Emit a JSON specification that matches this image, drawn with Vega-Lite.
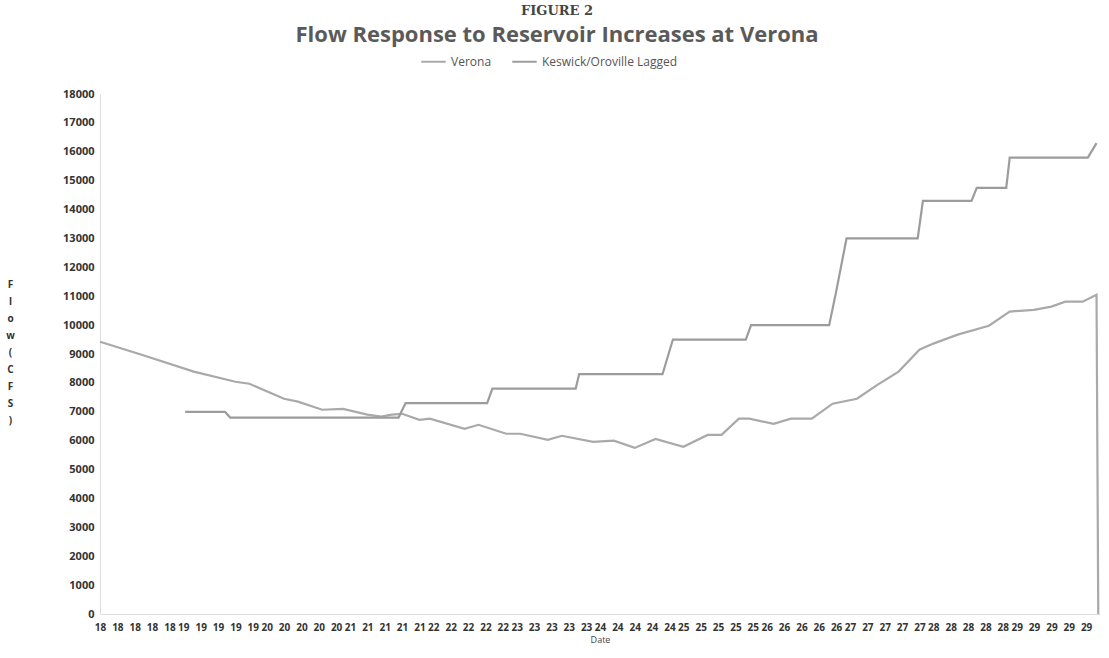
{
  "$schema": "https://vega.github.io/schema/vega-lite/v6.json",
  "autosize": "none",
  "width": 1000,
  "height": 520,
  "padding": {"left": 100, "top": 94, "right": 9, "bottom": 44},
  "background": "white",
  "title": {
    "text": "FIGURE 2",
    "subtitle": "Flow Response to Reservoir Increases at Verona",
    "font": "DejaVu Serif",
    "fontSize": 13,
    "fontWeight": "bold",
    "color": "#444444",
    "subtitleFont": "Open Sans",
    "subtitleFontSize": 22,
    "subtitleFontWeight": "bold",
    "subtitleColor": "#5a5a5a",
    "subtitlePadding": 7,
    "anchor": "middle",
    "dx": -43,
    "offset": 2
  },
  "data": {
    "values": [
      {"date": "2020-01-18T00:00:00", "series": "Verona", "flow": 9425},
      {"date": "2020-01-18T12:00:00", "series": "Verona", "flow": 8975},
      {"date": "2020-01-19T03:00:00", "series": "Verona", "flow": 8390},
      {"date": "2020-01-19T15:00:00", "series": "Verona", "flow": 8040},
      {"date": "2020-01-19T19:00:00", "series": "Verona", "flow": 7970},
      {"date": "2020-01-20T05:00:00", "series": "Verona", "flow": 7450},
      {"date": "2020-01-20T09:00:00", "series": "Verona", "flow": 7350},
      {"date": "2020-01-20T16:00:00", "series": "Verona", "flow": 7070},
      {"date": "2020-01-20T22:00:00", "series": "Verona", "flow": 7100},
      {"date": "2020-01-21T05:00:00", "series": "Verona", "flow": 6900},
      {"date": "2020-01-21T09:00:00", "series": "Verona", "flow": 6830},
      {"date": "2020-01-21T12:00:00", "series": "Verona", "flow": 6900},
      {"date": "2020-01-21T15:00:00", "series": "Verona", "flow": 6930},
      {"date": "2020-01-21T20:00:00", "series": "Verona", "flow": 6720},
      {"date": "2020-01-21T23:00:00", "series": "Verona", "flow": 6760},
      {"date": "2020-01-22T09:00:00", "series": "Verona", "flow": 6410},
      {"date": "2020-01-22T13:00:00", "series": "Verona", "flow": 6550},
      {"date": "2020-01-22T21:00:00", "series": "Verona", "flow": 6240},
      {"date": "2020-01-23T01:00:00", "series": "Verona", "flow": 6240},
      {"date": "2020-01-23T09:00:00", "series": "Verona", "flow": 6030},
      {"date": "2020-01-23T13:00:00", "series": "Verona", "flow": 6170},
      {"date": "2020-01-23T22:00:00", "series": "Verona", "flow": 5960},
      {"date": "2020-01-24T04:00:00", "series": "Verona", "flow": 6000},
      {"date": "2020-01-24T10:00:00", "series": "Verona", "flow": 5750},
      {"date": "2020-01-24T16:00:00", "series": "Verona", "flow": 6060},
      {"date": "2020-01-25T00:00:00", "series": "Verona", "flow": 5790},
      {"date": "2020-01-25T07:00:00", "series": "Verona", "flow": 6200},
      {"date": "2020-01-25T11:00:00", "series": "Verona", "flow": 6200},
      {"date": "2020-01-25T16:00:00", "series": "Verona", "flow": 6760},
      {"date": "2020-01-25T19:00:00", "series": "Verona", "flow": 6760},
      {"date": "2020-01-26T02:00:00", "series": "Verona", "flow": 6580},
      {"date": "2020-01-26T07:00:00", "series": "Verona", "flow": 6760},
      {"date": "2020-01-26T13:00:00", "series": "Verona", "flow": 6760},
      {"date": "2020-01-26T19:00:00", "series": "Verona", "flow": 7280},
      {"date": "2020-01-27T02:00:00", "series": "Verona", "flow": 7450},
      {"date": "2020-01-27T08:00:00", "series": "Verona", "flow": 7940},
      {"date": "2020-01-27T14:00:00", "series": "Verona", "flow": 8390},
      {"date": "2020-01-27T20:00:00", "series": "Verona", "flow": 9150},
      {"date": "2020-01-28T00:00:00", "series": "Verona", "flow": 9360},
      {"date": "2020-01-28T07:00:00", "series": "Verona", "flow": 9670},
      {"date": "2020-01-28T16:00:00", "series": "Verona", "flow": 9980},
      {"date": "2020-01-28T22:00:00", "series": "Verona", "flow": 10470},
      {"date": "2020-01-29T05:00:00", "series": "Verona", "flow": 10530},
      {"date": "2020-01-29T10:00:00", "series": "Verona", "flow": 10640},
      {"date": "2020-01-29T14:00:00", "series": "Verona", "flow": 10810},
      {"date": "2020-01-29T19:00:00", "series": "Verona", "flow": 10810},
      {"date": "2020-01-29T23:00:00", "series": "Verona", "flow": 11050},
      {"date": "2020-01-29T23:30:00", "series": "Verona", "flow": 0},
      {"date": "2020-01-19T00:30:00", "series": "Keswick/Oroville Lagged", "flow": 7000},
      {"date": "2020-01-19T12:00:00", "series": "Keswick/Oroville Lagged", "flow": 7000},
      {"date": "2020-01-19T13:30:00", "series": "Keswick/Oroville Lagged", "flow": 6800},
      {"date": "2020-01-21T14:00:00", "series": "Keswick/Oroville Lagged", "flow": 6800},
      {"date": "2020-01-21T16:00:00", "series": "Keswick/Oroville Lagged", "flow": 7300},
      {"date": "2020-01-22T15:30:00", "series": "Keswick/Oroville Lagged", "flow": 7300},
      {"date": "2020-01-22T17:00:00", "series": "Keswick/Oroville Lagged", "flow": 7800},
      {"date": "2020-01-23T17:00:00", "series": "Keswick/Oroville Lagged", "flow": 7800},
      {"date": "2020-01-23T18:00:00", "series": "Keswick/Oroville Lagged", "flow": 8300},
      {"date": "2020-01-24T18:00:00", "series": "Keswick/Oroville Lagged", "flow": 8300},
      {"date": "2020-01-24T21:00:00", "series": "Keswick/Oroville Lagged", "flow": 9500},
      {"date": "2020-01-25T18:00:00", "series": "Keswick/Oroville Lagged", "flow": 9500},
      {"date": "2020-01-25T19:30:00", "series": "Keswick/Oroville Lagged", "flow": 10000},
      {"date": "2020-01-26T18:00:00", "series": "Keswick/Oroville Lagged", "flow": 10000},
      {"date": "2020-01-26T20:00:00", "series": "Keswick/Oroville Lagged", "flow": 11150},
      {"date": "2020-01-26T23:00:00", "series": "Keswick/Oroville Lagged", "flow": 13000},
      {"date": "2020-01-27T19:30:00", "series": "Keswick/Oroville Lagged", "flow": 13000},
      {"date": "2020-01-27T21:00:00", "series": "Keswick/Oroville Lagged", "flow": 14300},
      {"date": "2020-01-28T11:00:00", "series": "Keswick/Oroville Lagged", "flow": 14300},
      {"date": "2020-01-28T12:30:00", "series": "Keswick/Oroville Lagged", "flow": 14750},
      {"date": "2020-01-28T21:00:00", "series": "Keswick/Oroville Lagged", "flow": 14750},
      {"date": "2020-01-28T22:00:00", "series": "Keswick/Oroville Lagged", "flow": 15800},
      {"date": "2020-01-29T20:30:00", "series": "Keswick/Oroville Lagged", "flow": 15800},
      {"date": "2020-01-29T23:00:00", "series": "Keswick/Oroville Lagged", "flow": 16300}
    ]
  },
  "mark": {"type": "line", "strokeWidth": 2.2},
  "encoding": {
    "x": {
      "field": "date",
      "type": "temporal",
      "scale": {"domain": [{"year": 2020, "month": 1, "date": 18}, {"year": 2020, "month": 1, "date": 30}], "nice": false},
      "axis": {
        "title": "Date",
        "format": "%d",
        "values": [
          {"year": 2020, "month": 1, "date": 18, "hours": 0}, {"year": 2020, "month": 1, "date": 18, "hours": 5}, {"year": 2020, "month": 1, "date": 18, "hours": 10}, {"year": 2020, "month": 1, "date": 18, "hours": 15}, {"year": 2020, "month": 1, "date": 18, "hours": 20},
          {"year": 2020, "month": 1, "date": 19, "hours": 0}, {"year": 2020, "month": 1, "date": 19, "hours": 5}, {"year": 2020, "month": 1, "date": 19, "hours": 10}, {"year": 2020, "month": 1, "date": 19, "hours": 15}, {"year": 2020, "month": 1, "date": 19, "hours": 20},
          {"year": 2020, "month": 1, "date": 20, "hours": 0}, {"year": 2020, "month": 1, "date": 20, "hours": 5}, {"year": 2020, "month": 1, "date": 20, "hours": 10}, {"year": 2020, "month": 1, "date": 20, "hours": 15}, {"year": 2020, "month": 1, "date": 20, "hours": 20},
          {"year": 2020, "month": 1, "date": 21, "hours": 0}, {"year": 2020, "month": 1, "date": 21, "hours": 5}, {"year": 2020, "month": 1, "date": 21, "hours": 10}, {"year": 2020, "month": 1, "date": 21, "hours": 15}, {"year": 2020, "month": 1, "date": 21, "hours": 20},
          {"year": 2020, "month": 1, "date": 22, "hours": 0}, {"year": 2020, "month": 1, "date": 22, "hours": 5}, {"year": 2020, "month": 1, "date": 22, "hours": 10}, {"year": 2020, "month": 1, "date": 22, "hours": 15}, {"year": 2020, "month": 1, "date": 22, "hours": 20},
          {"year": 2020, "month": 1, "date": 23, "hours": 0}, {"year": 2020, "month": 1, "date": 23, "hours": 5}, {"year": 2020, "month": 1, "date": 23, "hours": 10}, {"year": 2020, "month": 1, "date": 23, "hours": 15}, {"year": 2020, "month": 1, "date": 23, "hours": 20},
          {"year": 2020, "month": 1, "date": 24, "hours": 0}, {"year": 2020, "month": 1, "date": 24, "hours": 5}, {"year": 2020, "month": 1, "date": 24, "hours": 10}, {"year": 2020, "month": 1, "date": 24, "hours": 15}, {"year": 2020, "month": 1, "date": 24, "hours": 20},
          {"year": 2020, "month": 1, "date": 25, "hours": 0}, {"year": 2020, "month": 1, "date": 25, "hours": 5}, {"year": 2020, "month": 1, "date": 25, "hours": 10}, {"year": 2020, "month": 1, "date": 25, "hours": 15}, {"year": 2020, "month": 1, "date": 25, "hours": 20},
          {"year": 2020, "month": 1, "date": 26, "hours": 0}, {"year": 2020, "month": 1, "date": 26, "hours": 5}, {"year": 2020, "month": 1, "date": 26, "hours": 10}, {"year": 2020, "month": 1, "date": 26, "hours": 15}, {"year": 2020, "month": 1, "date": 26, "hours": 20},
          {"year": 2020, "month": 1, "date": 27, "hours": 0}, {"year": 2020, "month": 1, "date": 27, "hours": 5}, {"year": 2020, "month": 1, "date": 27, "hours": 10}, {"year": 2020, "month": 1, "date": 27, "hours": 15}, {"year": 2020, "month": 1, "date": 27, "hours": 20},
          {"year": 2020, "month": 1, "date": 28, "hours": 0}, {"year": 2020, "month": 1, "date": 28, "hours": 5}, {"year": 2020, "month": 1, "date": 28, "hours": 10}, {"year": 2020, "month": 1, "date": 28, "hours": 15}, {"year": 2020, "month": 1, "date": 28, "hours": 20},
          {"year": 2020, "month": 1, "date": 29, "hours": 0}, {"year": 2020, "month": 1, "date": 29, "hours": 5}, {"year": 2020, "month": 1, "date": 29, "hours": 10}, {"year": 2020, "month": 1, "date": 29, "hours": 15}, {"year": 2020, "month": 1, "date": 29, "hours": 20}
        ],
        "labelOverlap": false,
        "labelFlush": false,
        "labelAngle": 0,
        "labelFont": "Open Sans",
        "labelFontSize": 10,
        "labelFontWeight": "bold",
        "labelColor": "#333333",
        "labelPadding": 8,
        "ticks": false,
        "grid": false,
        "domainColor": "#dddddd",
        "titleFont": "Open Sans",
        "titleFontSize": 9,
        "titleFontWeight": "normal",
        "titleColor": "#444444",
        "titlePadding": 3
      }
    },
    "y": {
      "field": "flow",
      "type": "quantitative",
      "scale": {"domain": [0, 18000], "nice": false},
      "axis": {
        "title": ["F", "l", "o", "w", "(", "C", "F", "S", ")"],
        "titleAngle": 0,
        "titleX": -90,
        "titleY": 190,
        "titleAlign": "center",
        "titleBaseline": "middle",
        "titleLineHeight": 17,
        "titleFont": "Open Sans",
        "titleFontSize": 10,
        "titleFontWeight": "bold",
        "titleColor": "#333333",
        "tickCount": 18,
        "format": "d",
        "labelFont": "Open Sans",
        "labelFontSize": 11,
        "labelFontWeight": "bold",
        "labelColor": "#333333",
        "labelPadding": 6,
        "ticks": false,
        "grid": false,
        "domainColor": "#dddddd"
      }
    },
    "color": {
      "field": "series",
      "type": "nominal",
      "scale": {"domain": ["Verona", "Keswick/Oroville Lagged"], "range": ["#a9a9a9", "#9c9c9c"]},
      "legend": {
        "title": null,
        "orient": "none",
        "direction": "horizontal",
        "legendX": 320,
        "legendY": -46,
        "symbolType": "stroke",
        "symbolStrokeWidth": 2,
        "symbolSize": 600,
        "labelFont": "Open Sans",
        "labelFontSize": 12,
        "labelColor": "#555555",
        "columnPadding": 16
      }
    }
  },
  "config": {"view": {"stroke": null}}
}
